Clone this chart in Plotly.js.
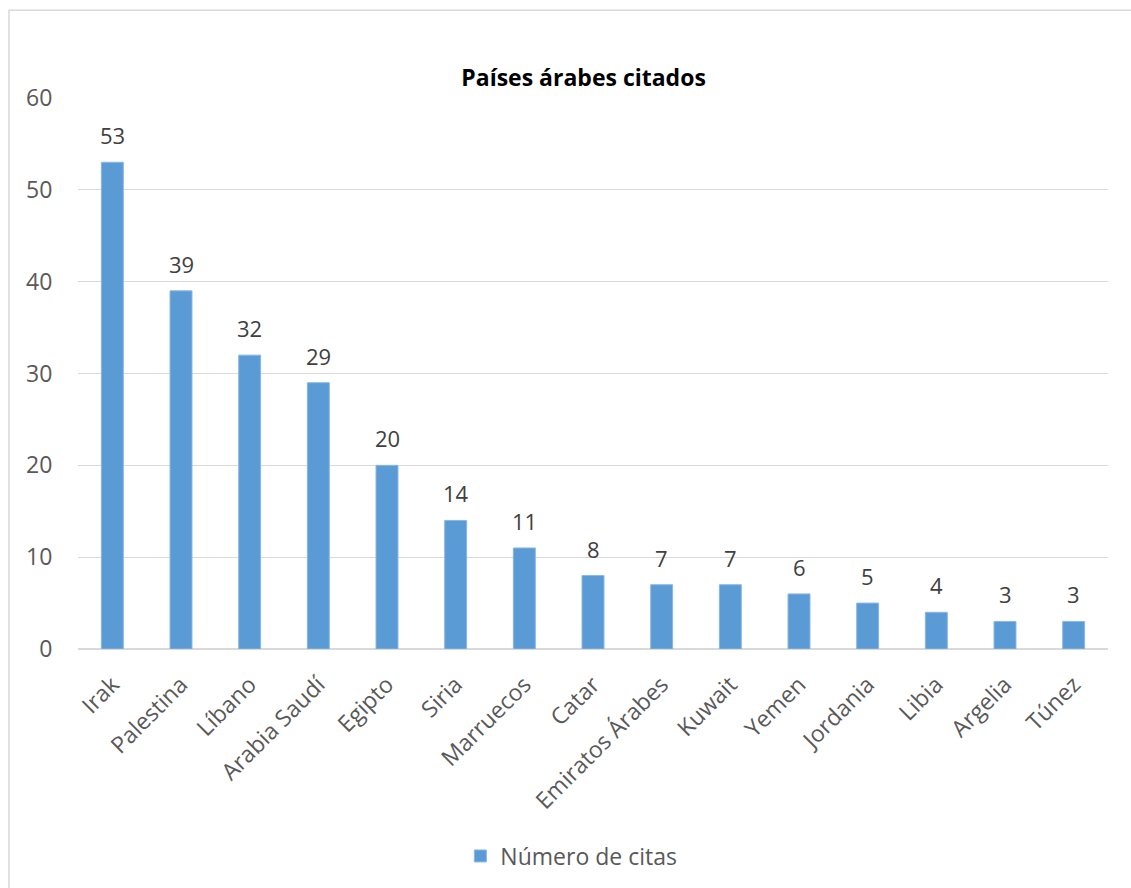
<!DOCTYPE html>
<html>
<head>
<meta charset="utf-8">
<script src="https://cdn.plot.ly/plotly-3.0.1.min.js"></script>
<style>html,body{margin:0;padding:0;background:#fff;}#chart{width:1131px;height:888px;}</style>
</head>
<body>
<div id="chart"></div>
<script>
const countries = ["Irak","Palestina","Líbano","Arabia Saudí","Egipto","Siria","Marruecos","Catar","Emiratos Árabes","Kuwait","Yemen","Jordania","Libia","Argelia","Túnez"];
const citations = [53,39,32,29,20,14,11,8,7,7,6,5,4,3,3];
const seriesName = "Número de citas";
const chartTitle = "Países árabes citados";

const FONT = "Open Sans, DejaVu Sans, sans-serif";

const trace = {
  type: "bar",
  x: countries,
  y: citations,
  name: seriesName,
  marker: {color: "#5b9bd5", line: {color: "#8ab8e3", width: 1}},
  showlegend: true,
  hoverinfo: "x+y"
};

const labels = countries.map((c, i) => ({
  x: c, y: citations[i], xref: "x", yref: "y",
  text: String(citations[i]),
  showarrow: false,
  yanchor: "bottom", yshift: 10,
  font: {family: FONT, size: 22, color: "#404040"}
}));

const layout = {
  width: 1131,
  height: 888,
  margin: {l: 78, r: 23, t: 98, b: 238},
  paper_bgcolor: "#ffffff",
  plot_bgcolor: "#ffffff",
  font: {family: FONT, color: "#595959"},
  title: {
    text: "<b>" + chartTitle + "</b>",
    font: {family: FONT, size: 23, color: "#000000"},
    xref: "container", x: 0.516, xanchor: "center",
    yref: "container", y: 1 - 78/888, yanchor: "middle"
  },
  bargap: 0.68,
  xaxis: {
    type: "category",
    tickangle: -45,
    tickfont: {family: FONT, size: 23, color: "#595959"},
    ticks: "outside", ticklen: 12, tickcolor: "rgba(0,0,0,0)",
    showline: false, showgrid: false, zeroline: false
  },
  yaxis: {
    range: [0, 60],
    dtick: 10,
    tickfont: {family: FONT, size: 23, color: "#595959"},
    ticks: "outside", ticklen: 20, tickcolor: "rgba(0,0,0,0)",
    showgrid: true, gridcolor: "#d9d9d9", gridwidth: 1.3,
    zeroline: true, zerolinecolor: "#d9d9d9", zerolinewidth: 1.3,
    showline: false
  },
  legend: {
    orientation: "h",
    x: 0.479, xanchor: "center",
    y: (650-856)/552, yanchor: "middle",
    font: {family: FONT, size: 23, color: "#595959"},
    itemwidth: 30
  },
  annotations: labels,
  shapes: [{
    type: "rect", xref: "paper", yref: "paper",
    x0: (9-78)/1030, x1: (1140-78)/1030,
    y0: (650-900)/552, y1: (650-10)/552,
    line: {color: "#d9d9d9", width: 1.5},
    fillcolor: "rgba(0,0,0,0)", layer: "below"
  }]
};

Plotly.newPlot("chart", [trace], layout, {displayModeBar: false, staticPlot: true});
</script>
</body>
</html>
